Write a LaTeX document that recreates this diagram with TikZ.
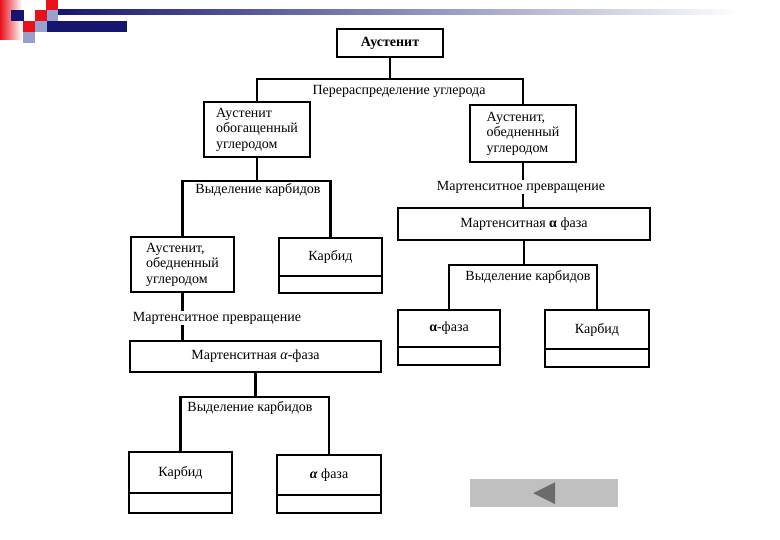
\documentclass[tikz,border=0pt]{standalone}
\usepackage{fontspec}
\setmainfont{Liberation Serif}
\usetikzlibrary{positioning}
\definecolor{hdred}{HTML}{E8101A}
\definecolor{hdnavy}{HTML}{16166E}
\definecolor{hdblue}{HTML}{9AA0CC}
\definecolor{navgrey}{HTML}{C0C0C0}
\definecolor{navdark}{HTML}{6B6B6B}
\begin{document}
\begin{tikzpicture}[x=1pt,y=-1pt,font=\fontsize{14}{15.5}\selectfont,
  box/.style={draw,line width=2.5pt,outer sep=0pt,inner sep=2pt,anchor=north west,align=center},
  cell/.style={draw,line width=2.5pt,outer sep=0pt,inner sep=0pt},
  lab/.style={fill=white,inner sep=1pt},
  link/.style={line width=2.3pt}]
\useasboundingbox (0,0) rectangle (780,540);

% slide header
\fill[left color=hdred,right color=white] (0,0) rectangle (22,40);
\fill[hdred] (46,0) rectangle (58,10);
\fill[hdnavy] (11,10) rectangle (24,21);
\fill[hdred] (35,10) rectangle (47,21);
\fill[hdblue] (47,10) rectangle (58,21);
\fill[hdred] (23,21) rectangle (35,32);
\fill[hdblue] (35,21) rectangle (47,32);
\fill[hdblue] (23,32) rectangle (35,43);
\fill[left color=hdnavy,right color=white] (58,10) rectangle (740,15);
\fill[hdnavy] (47,21) rectangle (127,32);

\node[box,minimum width=106pt,minimum height=28pt] (aust) at (337,29) {\bfseries Аустенит};
\node[box,align=left,minimum width=106pt,minimum height=55pt] (rich) at (204,102) {Аустенит\\обогащенный\\углеродом};
\node[box,align=left,minimum width=106pt,minimum height=57pt] (poor) at (470,105) {Аустенит,\\обедненный\\углеродом};

\node[box,align=left,minimum width=103pt,minimum height=55pt] (poorl) at (131,237) {Аустенит,\\обедненный\\углеродом};
\node[box,minimum width=103pt,minimum height=38pt] (carbl) at (279,238) {Карбид};
\node[cell,minimum width=103pt,minimum height=17pt,below=0pt of carbl] (carblb) {};
\node[box,minimum width=251pt,minimum height=31pt] (martl) at (130,341) {Мартенситная \textit{α}-фаза};
\node[box,minimum width=103pt,minimum height=41pt] (carbll) at (129,452) {Карбид};
\node[cell,minimum width=103pt,minimum height=20pt,below=0pt of carbll] (carbllb) {};
\node[box,minimum width=104pt,minimum height=40pt] (alphal) at (277,455) {\textbf{\textit{α}} фаза};
\node[cell,minimum width=104pt,minimum height=18pt,below=0pt of alphal] (alphalb) {};

\node[box,minimum width=252pt,minimum height=32pt] (martr) at (398,208) {Мартенситная \textbf{α} фаза};
\node[box,minimum width=102pt,minimum height=37pt] (alphar) at (398,310) {\textbf{α}-фаза};
\node[cell,minimum width=102pt,minimum height=18pt,below=0pt of alphar] (alpharb) {};
\node[box,minimum width=104pt,minimum height=39pt] (carbr) at (545,310) {Карбид};
\node[cell,minimum width=104pt,minimum height=18pt,below=0pt of carbr] (carbrb) {};

\coordinate (top) at (390,79);
\coordinate (left) at (257,181);
\coordinate (lower) at (255.5,397);
\coordinate (right) at (524,265);

\draw[link] (aust.south) -- (top);
\draw[link] (rich.north) |- (top) -| (poor.north);
\draw[link] (rich.south) -- (left);
\draw[link] (poorl.north) |- (left) -| (carbl.north);
\draw[link] (poorl.south) -- (poorl.south |- martl.north);
\draw[link] (martl.south) -- (lower);
\draw[link] (carbll.north) |- (lower) -| (alphal.north);
\draw[link] (poor.south) -- (poor.south |- martr.north);
\draw[link] (martr.south) -- (right);
\draw[link] (alphar.north) |- (right) -| (carbr.north);

\node[lab] (redist) at (399,91) {Перераспределение углерода};
\node[lab] (sepl) at (258,190) {Выделение карбидов};
\node[lab] (transl) at (217,318) {Мартенситное превращение};
\node[lab] (sepll) at (250,408) {Выделение карбидов};
\node[lab] (transr) at (521,187) {Мартенситное превращение};
\node[lab] (sepr) at (528,277) {Выделение карбидов};

\node[fill=navgrey,minimum width=148pt,minimum height=28pt,anchor=north west,inner sep=0pt] (back) at (470,479) {};
\fill[navdark] (back.center) ++(-11,0) -- ++(22,-11) -- ++(0,22) -- cycle;
\end{tikzpicture}
\end{document}
